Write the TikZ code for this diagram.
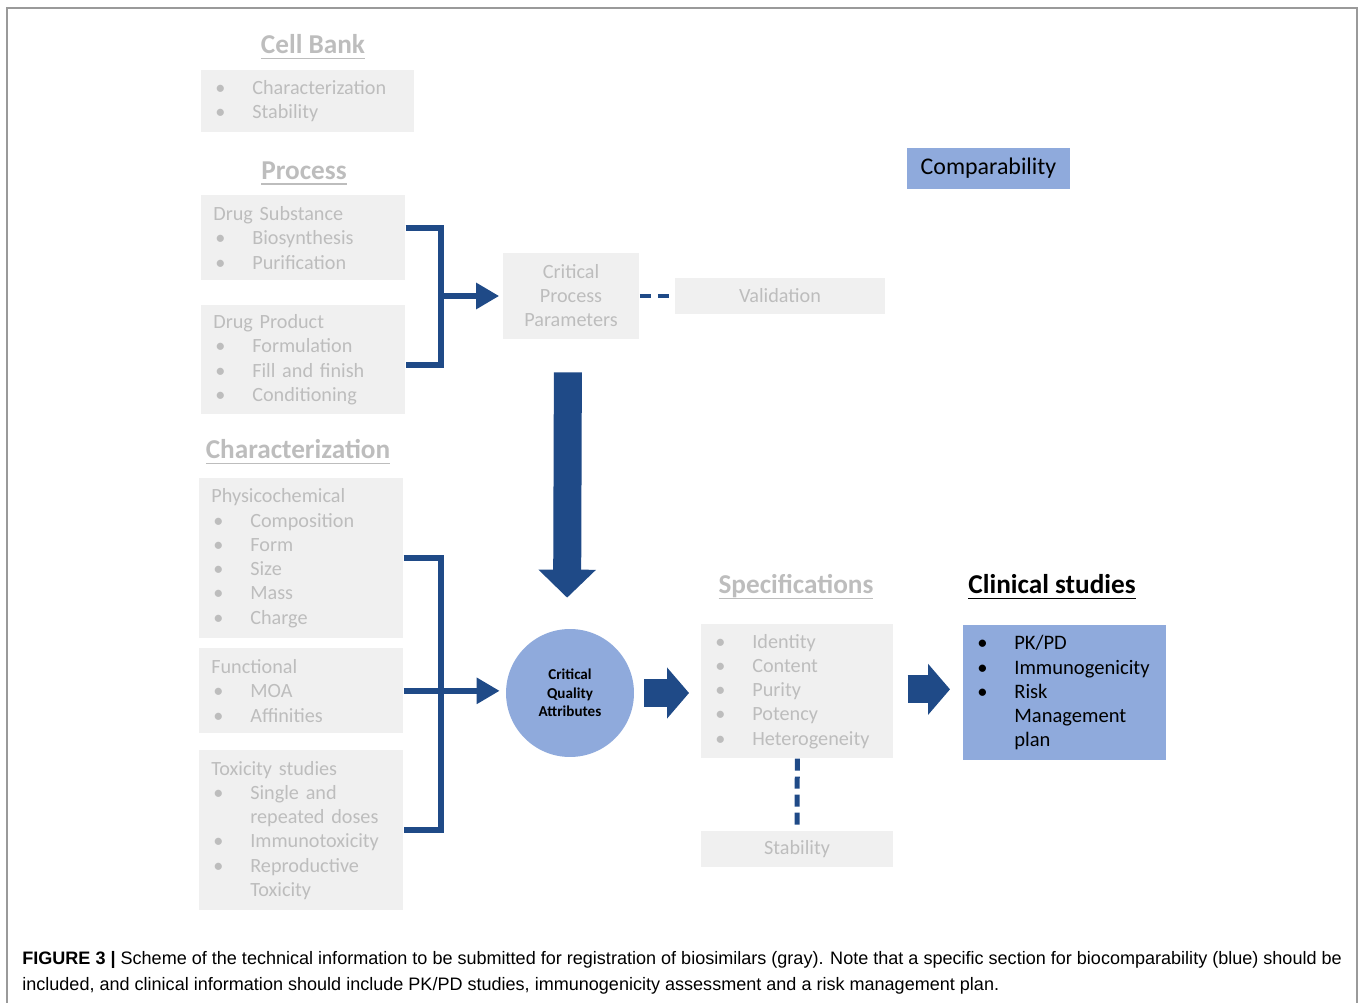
\documentclass[tikz,border=0pt]{standalone}
\usepackage{fontspec}
\setmainfont{Carlito}
\newfontfamily\capfont{Liberation Sans}
\usetikzlibrary{shapes, arrows.meta}

\definecolor{boxgray}{HTML}{F0F0F0}
\definecolor{txtgray}{HTML}{BDBDBD}
\definecolor{darkblue}{HTML}{1F4A87}
\definecolor{lightblue}{HTML}{8FAADC}
\definecolor{framegray}{HTML}{9A9A9A}

\newcommand{\itm}[1]{\makebox[0.78cm][l]{\hspace{0.04cm}\textbullet}#1}
\newcommand{\cont}[1]{\hspace{0.78cm}#1}
\newsavebox{\hdbox}
\newcommand{\hd}[1]{\sbox{\hdbox}{#1}\rlap{\rule[-3.2pt]{\wd\hdbox}{1pt}}\usebox{\hdbox}}

\tikzset{
  graybox/.style={rectangle, fill=boxgray, text=txtgray, anchor=north west, align=left,
    inner xsep=0.24cm, inner ysep=0pt, font=\fontsize{11.5}{13.8}\selectfont},
  plainbox/.style={rectangle, fill=boxgray, text=txtgray, align=center, inner sep=0pt,
    font=\fontsize{11.5}{13.66}\selectfont},
  heading/.style={text=txtgray, inner sep=1pt, font=\fontsize{15.5}{18}\selectfont\bfseries},
  bluebox/.style={rectangle, fill=lightblue, text=black},
  brk/.style={darkblue, line width=0.12cm},
  tip/.style={-{Triangle[length=0.46cm, width=0.5cm]}},
  dashlink/.style={darkblue, line width=0.09cm, dash pattern=on 0.22cm off 0.14cm},
  blockarr/.style={darkblue, line width=0.58cm, -{Triangle[length=0.44cm, width=1.0cm]}}
}

\begin{document}
\begin{tikzpicture}[x=0.02cm, y=-0.02cm]
  \useasboundingbox (0,0) rectangle (1363,1003);
  \draw[framegray, line width=0.6pt] (7,1003) -- (7,8) -- (1357,8) -- (1357,1003);

  % cell bank and process
  \node[heading] (cbh) at (313,47) {\hd{Cell Bank}};
  \node[graybox, minimum width=4.26cm, minimum height=1.24cm, text width=3.78cm] (cb) at (201,70)
    {\itm{Characterization}\\ \itm{Stability}};
  \node[heading] (prh) at (304,173) {\hd{Process}};
  \node[graybox, minimum width=4.08cm, minimum height=1.7cm, text width=3.6cm] (ds) at (201,195)
    {Drug Substance\\ \itm{Biosynthesis}\\ \itm{Purification}};
  \node[graybox, minimum width=4.08cm, minimum height=2.18cm, text width=3.6cm] (dp) at (201,305)
    {Drug Product\\ \itm{Formulation}\\ \itm{Fill and finish}\\ \itm{Conditioning}};

  % characterization
  \node[heading] (chh) at (298,452) {\hd{Characterization}};
  \node[graybox, minimum width=4.08cm, minimum height=3.2cm, text width=3.6cm] (phys) at (199,478)
    {Physicochemical\\ \itm{Composition}\\ \itm{Form}\\ \itm{Size}\\ \itm{Mass}\\ \itm{Charge}};
  \node[graybox, minimum width=4.08cm, minimum height=1.7cm, text width=3.6cm] (func) at (199,648)
    {Functional\\ \itm{MOA}\\ \itm{Affinities}};
  \node[graybox, minimum width=4.08cm, minimum height=3.2cm, text width=3.6cm] (tox) at (199,750)
    {Toxicity studies\\ \itm{Single and}\\ \cont{repeated doses}\\ \itm{Immunotoxicity}\\ \itm{Reproductive}\\ \cont{Toxicity}};

  % middle column
  \node[plainbox, minimum width=2.74cm, minimum height=1.72cm] (cpp) at (571,296)
    {Critical\\ Process\\ Parameters};
  \node[plainbox, minimum width=4.2cm, minimum height=0.72cm] (val) at (780,296) {Validation};
  \node[circle, fill=lightblue, minimum size=2.56cm, inner sep=0pt, align=center,
    font=\fontsize{8.6}{10.4}\selectfont\bfseries] (cqa) at (570,693) {Critical\\ Quality\\ Attributes};

  % specifications
  \node[heading] (sph) at (796,587) {\hd{Specifications}};
  \node[graybox, minimum width=3.84cm, minimum height=2.68cm, text width=3.36cm] (spec) at (701,624)
    {\itm{Identity}\\ \itm{Content}\\ \itm{Purity}\\ \itm{Potency}\\ \itm{Heterogeneity}};
  \node[plainbox, minimum width=3.84cm, minimum height=0.72cm] (stab) at (797,849) {Stability};

  % comparability and clinical
  \node[bluebox, minimum width=3.26cm, minimum height=0.82cm, inner sep=0pt,
    font=\fontsize{13.6}{16}\selectfont] (comp) at (988.5,168.5) {Comparability};
  \node[heading, text=black] (clh) at (1052,587) {\hd{Clinical studies}};
  \node[bluebox, anchor=north west, align=left, minimum width=4.06cm, minimum height=2.7cm,
    text width=3.58cm, inner xsep=0.24cm, inner ysep=0pt, font=\fontsize{11.7}{13.8}\selectfont] (clin) at (963,625)
    {\itm{PK/PD}\\ \itm{Immunogenicity}\\ \itm{Risk}\\ \cont{Management}\\ \cont{plan}};

  % connectors
  \coordinate (jp) at (441,296);
  \coordinate (jc) at (441,691);
  \draw[brk] ([yshift=0.19cm]ds.east) -| (jp) |- ([yshift=-0.1cm]dp.east);
  \draw[brk, tip, shorten >=0.06cm] (jp) -- (cpp.west);
  \draw[dashlink] (cpp.east) -- (val.west);
  \draw[darkblue, line width=0.56cm, -{Triangle[length=0.56cm, width=1.12cm]},
    shorten <=0.66cm, shorten >=0.62cm] ([xshift=-0.06cm]cpp.south) -- ([xshift=-0.06cm]cqa.north);
  \draw[brk] (phys.east) -| (jc) |- (tox.east);
  \draw[brk, tip, shorten >=0.12cm] (func.east) -- (func.east -| cqa.west);
  \draw[blockarr, shorten <=0.2cm, shorten >=0.24cm] (cqa.east) -- (cqa.east -| spec.west);
  \draw[blockarr, line width=0.56cm, shorten <=0.28cm, shorten >=0.26cm] ([yshift=0.04cm]spec.east) -- ([yshift=0.04cm]spec.east -| clin.west);
  \draw[dashlink, line width=0.1cm, dash pattern=on 0.24cm off 0.12cm] (spec.south) -- (stab.north);

  % caption
  \node[anchor=west, align=left, inner sep=0pt, font=\capfont\fontsize{10.27}{14.8}\selectfont] (cap) at (22,973)
    {\textbf{FIGURE 3 |} Scheme of the technical information to be submitted for registration of biosimilars (gray). Note that a specific section for biocomparability (blue) should be\\
     included, and clinical information should include PK/PD studies, immunogenicity assessment and a risk management plan.};
\end{tikzpicture}
\end{document}
